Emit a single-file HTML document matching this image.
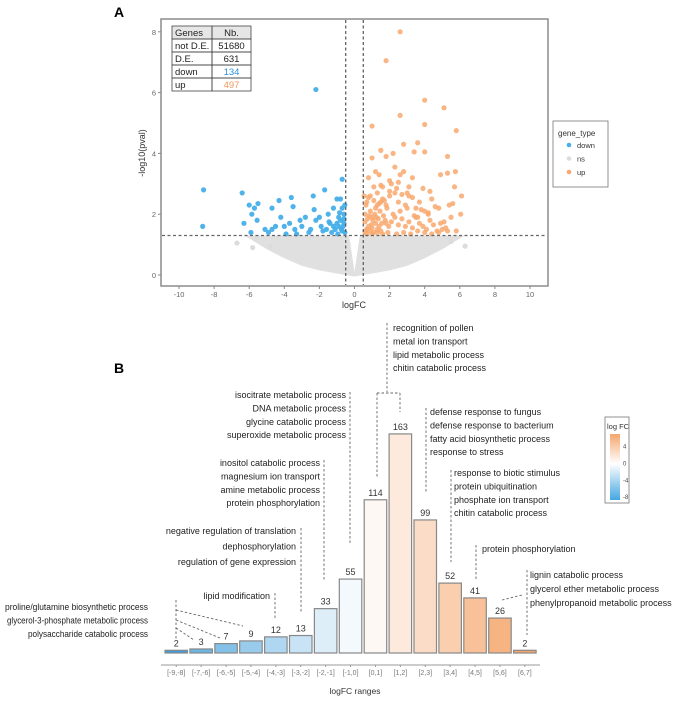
<!DOCTYPE html>
<html><head><meta charset="utf-8">
<style>
html,body{margin:0;padding:0;background:#fff;}
body{width:700px;height:698px;overflow:hidden;font-family:"Liberation Sans",Arial,sans-serif;}
svg text{font-family:"Liberation Sans",Arial,sans-serif;}
</style></head>
<body>
<svg id="chart" width="700" height="698" viewBox="0 0 700 698" xmlns="http://www.w3.org/2000/svg">
<defs>
<linearGradient id="cbar" x1="0" y1="0" x2="0" y2="1">
<stop offset="0" stop-color="#f5a66d"/><stop offset="0.45" stop-color="#ffffff"/><stop offset="1" stop-color="#45a6e2"/>
</linearGradient>
</defs>
<text x="114" y="17" font-size="14" font-weight="bold">A</text>
<text x="114" y="373" font-size="14" font-weight="bold">B</text>
<g id="volcano"></g>
<g id="bars"></g>
</svg>
<script>
// ---------- Panel A data ----------
const downX=[-8.6,-8.65,-6.4,-6.3,-6.0,-5.85,-5.7,-5.5,-5.55,-5.9,-5.1,-4.7,-4.7,-4.3,-4.2,-4.0,-3.6,-3.5,-3.7,-3.4,-3.1,-3.0,-2.8,-2.35,-2.2,-2.3,-2.2,-1.7,-1.9,-1.5,-1.4,-1.2,-1.1,-1.0,-0.9,-0.7,-0.8,-0.7,-0.6,-0.9,-0.7,-0.6,-1.3,-2.6,-3.9,-1.6,-0.8,-0.65,-1.0,-1.8,-2.0,-0.55,-0.55,-4.9,-4.5,-3.3,-2.5,-1.2,-0.95,-0.75,-0.6,-1.45,-0.85];
const downY=[2.8,1.6,2.7,1.7,2.3,2.0,2.2,2.35,1.8,1.4,1.5,2.2,1.5,2.45,1.9,1.6,2.55,2.25,1.7,1.5,1.8,1.6,1.9,2.6,6.1,2.15,1.8,2.8,1.6,2.0,1.7,2.2,1.5,2.5,1.9,3.15,2.5,2.2,1.7,1.6,1.45,2.0,1.4,1.4,1.35,1.5,1.8,1.6,1.7,1.45,1.9,2.3,1.4,1.4,1.6,1.35,1.5,1.6,1.35,1.5,1.85,1.75,2.05];
const upX=[2.6,1.8,4.0,5.1,2.6,1.0,4.0,5.8,2.8,3.6,3.4,4.0,1.5,1.8,2.2,1.0,5.3,0.8,1.2,1.4,2.3,2.6,2.8,3.3,4.9,5.3,5.75,1.1,1.6,2.1,2.4,3.1,3.9,4.3,5.7,6.1,6.05,5.8,5.0,4.8,4.4,4.0,3.7,3.3,2.9,2.5,2.0,1.6,1.3,0.9,0.7,0.6,0.6,0.7,0.8,0.9,1.0,1.1,1.2,1.3,1.4,1.5,0.6,0.75,0.85,0.95,1.05,1.15,1.25,1.35,1.45,1.55,1.65,1.75,1.85,1.95,2.1,2.3,2.5,2.7,2.9,3.1,3.3,3.5,3.7,3.9,4.1,4.3,4.5,4.7,4.9,5.2,5.5,0.65,0.9,1.2,1.5,1.8,2.2,2.6,3.0,3.4,3.8,4.2,4.6,5.1,5.6,0.7,1.0,1.3,1.6,1.9,2.4,2.8,3.2,3.6,4.0,4.4,4.8,5.3,0.55,0.8,1.1,1.4,1.7,2.0,2.3,2.7,3.1,3.5,1.5,2.0,2.5,3.0,3.6,4.2,5.4,0.7,1.0,1.3,1.8];
const upY=[8.0,7.05,5.75,5.5,5.25,4.9,4.95,4.75,4.3,4.35,4.05,4.05,4.1,3.9,4.0,3.85,3.9,3.2,3.4,3.3,3.55,3.3,3.4,3.2,3.3,3.35,3.4,2.9,2.9,3.0,2.85,2.9,2.85,2.75,2.9,2.6,2.0,1.45,1.5,2.2,2.5,2.1,2.4,2.55,2.3,2.4,2.6,2.5,2.7,2.6,2.4,2.0,1.4,1.5,1.6,1.45,1.55,1.4,1.7,1.5,1.6,1.45,1.75,1.85,1.95,1.65,1.8,2.0,1.9,1.85,2.1,1.7,1.95,1.8,2.2,1.6,1.75,1.9,1.65,1.85,1.6,1.75,1.55,1.9,1.7,1.6,1.5,1.8,1.65,1.45,1.7,1.55,1.9,2.3,2.1,2.2,2.4,2.3,2.0,2.1,2.2,1.95,2.15,2.05,2.25,1.75,2.35,1.35,1.35,1.4,1.35,1.4,1.35,1.4,1.35,1.45,1.4,1.35,1.4,1.45,2.6,2.55,2.45,2.35,2.45,2.75,2.7,2.65,2.6,2.2,2.95,3.1,3.05,2.7,1.9,2.0,2.3,1.5,1.9,2.3,1.7];
const nsX=[-6.7,-5.8,-5.6,-4.8,6.3,5.5];
const nsY=[1.05,0.9,1.2,0.95,0.95,1.1];
const cloudX=[-6.3,-0.3,0,0.3,6.3,6.0,5.0,4.0,3.0,2.0,1.0,0,-1.0,-2.0,-3.0,-4.0,-5.0,-6.0];
const cloudY=[1.3,1.3,0.1,1.3,1.3,1.2,0.85,0.55,0.3,0.15,0.05,-0.05,0.05,0.15,0.3,0.55,0.85,1.2];
const xTicksA=[-10,-8,-6,-4,-2,0,2,4,6,8,10];
const yTicksA=[0,2,4,6,8];
const fcCut=[-0.5,0.5];
const pCut=[1.3];
const tableRows=[["Genes","Nb."],["not D.E.","51680"],["D.E.","631"],["down","134"],["up","497"]];

// ---------- Panel B data ----------
const ranges=["[-9,-8]","[-7,-6]","[-6,-5]","[-5,-4]","[-4,-3]","[-3,-2]","[-2,-1]","[-1,0]","[0,1]","[1,2]","[2,3]","[3,4]","[4,5]","[5,6]","[6,7]"];
const counts=[2,3,7,9,12,13,33,55,114,163,99,52,41,26,2];
const midFC=[-8.5,-6.5,-5.5,-4.5,-3.5,-2.5,-1.5,-0.5,0.5,1.5,2.5,3.5,4.5,5.5,6.5];
const cbTicks=[4,0,-4,-8];

const NS="http://www.w3.org/2000/svg";
function mk(parent,tag,attrs,text){const e=document.createElementNS(NS,tag);for(const k in attrs)e.setAttribute(k,attrs[k]);if(text!==undefined)e.textContent=text;parent.appendChild(e);return e;}

// ---- Panel A ----
const A=document.getElementById('volcano');
const xA=v=>354.5+v*17.55;
const yA=v=>275-v*30.4;
const frame=mk(A,'rect',{x:161,y:19,width:387,height:267,fill:'#fff',stroke:'#8c8c8c','stroke-width':1.5});


let d='';
cloudX.forEach((v,i)=>{d+=(i?'L':'M')+xA(v).toFixed(1)+','+yA(cloudY[i]).toFixed(1);});
const cloud=mk(A,'path',{d:d+'Z',fill:'#e0e0e0'});


nsX.forEach((v,i)=>{const c=mk(A,'circle',{cx:xA(v),cy:yA(nsY[i]),r:2.6,fill:'#dcdcdc'});

});
downX.forEach((v,i)=>{const c=mk(A,'circle',{cx:xA(v),cy:yA(downY[i]),r:2.6,fill:'#46afe8','fill-opacity':0.95});

});
upX.forEach((v,i)=>{const c=mk(A,'circle',{cx:xA(v),cy:yA(upY[i]),r:2.6,fill:'#f8a96f','fill-opacity':0.85});

});
fcCut.forEach(v=>{const l=mk(A,'line',{x1:xA(v),x2:xA(v),y1:20,y2:285,stroke:'#555','stroke-width':1.2,'stroke-dasharray':'3,2.5'});

});
pCut.forEach(v=>{const l=mk(A,'line',{x1:162,x2:547,y1:yA(v),y2:yA(v),stroke:'#666','stroke-width':1.2,'stroke-dasharray':'3,2.5'});

});
xTicksA.forEach(v=>{mk(A,'line',{x1:xA(v),x2:xA(v),y1:286,y2:289,stroke:'#888'});
const t=mk(A,'text',{x:xA(v),y:297,'font-size':7.5,fill:'#666','text-anchor':'middle'},String(v));

});
yTicksA.forEach(v=>{mk(A,'line',{x1:158,x2:161,y1:yA(v),y2:yA(v),stroke:'#888'});
const t=mk(A,'text',{x:156,y:yA(v)+3,'font-size':7.5,fill:'#666','text-anchor':'end'},String(v));

});
const xt=mk(A,'text',{x:354,y:308,'font-size':9,fill:'#333','text-anchor':'middle'},'logFC');


const yt=mk(A,'text',{x:0,y:0,'font-size':9,fill:'#333','text-anchor':'middle',transform:'translate(145,153) rotate(-90)'},'-log10(pval)');


// table
const tb=mk(A,'g',{});


mk(tb,'rect',{x:172,y:26,width:79,height:13,fill:'#e6e6e6'});
tableRows.forEach((r,i)=>{const y=26+i*13;
mk(tb,'rect',{x:172,y:y,width:40,height:13,fill:'none',stroke:'#444','stroke-width':0.8});
mk(tb,'rect',{x:212,y:y,width:39,height:13,fill:'none',stroke:'#444','stroke-width':0.8});
mk(tb,'text',{x:175,y:y+10,'font-size':9.5,fill:'#222'},r[0]);
const col=i===3?'#2e90d8':(i===4?'#f29a5c':'#222');
mk(tb,'text',{x:231.5,y:y+10,'font-size':9.5,fill:col,'text-anchor':'middle'},r[1]);});
// legend
const lg=mk(A,'g',{});


mk(lg,'rect',{x:553,y:121,width:55,height:66,fill:'#fff',stroke:'#777','stroke-width':0.8});
mk(lg,'text',{x:558,y:136,'font-size':8,fill:'#333'},'gene_type');
[['down','#46afe8'],['ns','#dcdcdc'],['up','#f8a96f']].forEach((e,i)=>{
const g=mk(lg,'g',{});


mk(g,'circle',{cx:569,cy:145+i*13.5,r:2.3,fill:e[1]});
mk(g,'text',{x:577,y:148+i*13.5,'font-size':7.5,fill:'#333'},e[0]);});

// ---- Panel B ----
const B=document.getElementById('bars');
const xB=i=>165+i*24.9;
const bw=22.5;
const base=653;
const hB=v=>v*1.344;
function lerp(a,b,t){return Math.round(a+(b-a)*t);}
function fcColor(v){const w=[255,255,255];let c,t;
if(v<0){c=[63,159,220];t=Math.min(1,-v/8.5);}else{c=[245,166,109];t=Math.min(1,v/6.5);}
return 'rgb('+lerp(w[0],c[0],t)+','+lerp(w[1],c[1],t)+','+lerp(w[2],c[2],t)+')';}
counts.forEach((v,i)=>{
const r=mk(B,'rect',{x:xB(i),y:base-hB(v),width:bw,height:hB(v),fill:fcColor(midFC[i]),stroke:'#888','stroke-width':1.2});


const t=mk(B,'text',{x:xB(i)+bw/2,y:base-hB(v)-4,'font-size':9,fill:'#333','text-anchor':'middle'},String(v));


const tk=mk(B,'text',{x:xB(i)+bw/2,y:675,'font-size':7,fill:'#777','text-anchor':'middle'},ranges[i]);


mk(B,'line',{x1:xB(i)+bw/2,x2:xB(i)+bw/2,y1:665,y2:667,stroke:'#999'});
});
const ax=mk(B,'line',{x1:161,x2:540,y1:665,y2:665,stroke:'#999','stroke-width':1});


const bt=mk(B,'text',{x:355,y:694,'font-size':8.5,fill:'#333','text-anchor':'middle'},'logFC ranges');


// annotations
const ann=[
 {x:393,y:331,a:'start',lines:['recognition of pollen','metal ion transport','lipid metabolic process','chitin catabolic process']},
 {x:346,y:398,a:'end',lines:['isocitrate metabolic process','DNA metabolic process','glycine catabolic process','superoxide metabolic process']},
 {x:430,y:415,a:'start',lines:['defense response to fungus','defense response to bacterium','fatty acid biosynthetic process','response to stress']},
 {x:320,y:466,a:'end',lines:['inositol catabolic process','magnesium ion transport','amine metabolic process','protein phosphorylation']},
 {x:454,y:476,a:'start',lines:['response to biotic stimulus','protein ubiquitination','phosphate ion transport','chitin catabolic process']},
 {x:296,y:534,a:'end',lines:['negative regulation of translation','dephosphorylation','regulation of gene expression'],sp:15.5},
 {x:482,y:552,a:'start',lines:['protein phosphorylation']},
 {x:530,y:578,a:'start',lines:['lignin catabolic process','glycerol ether metabolic process','phenylpropanoid metabolic process'],sp:14},
 {x:270,y:599,a:'end',lines:['lipid modification']}
];
ann.forEach(b=>{const g=mk(B,'g',{});


b.lines.forEach((s,j)=>mk(g,'text',{x:b.x,y:b.y+j*(b.sp||13.4),'font-size':9,fill:'#222','text-anchor':b.a},s));});
// bottom-left block fitted to width
const pg=mk(B,'g',{});


[['proline/glutamine biosynthetic process',5,143],['glycerol-3-phosphate metabolic process',7,141],['polysaccharide catabolic process',28,120]].forEach((r,j)=>{
mk(pg,'text',{x:r[1],y:610+j*13.4,'font-size':9,fill:'#222',textLength:r[2],lengthAdjust:'spacingAndGlyphs'},r[0]);});
const leaders=[
 'M387,323 L387,392 M377,393 L400,393 M377,393 L377,477 M400,393 L400,412',
 'M350,392 L350,543',
 'M426,408 L426,493',
 'M324,460 L324,580',
 'M451,470 L451,562',
 'M301,528 L301,612',
 'M476,545 L476,580',
 'M527,570 L527,635 M502,600 L522,595',
 'M275,593 L275,620',
 'M176,600 L176,640 M176,610 L243,626 M176,620 L220,638 M176,628 L194,640'
];
leaders.forEach(p=>{const l=mk(B,'path',{d:p,fill:'none',stroke:'#666','stroke-width':0.9,'stroke-dasharray':'2.5,2'});

});
// colorbar legend
const cb=mk(B,'g',{});


mk(cb,'rect',{x:605,y:417,width:24,height:86,fill:'#fff',stroke:'#777','stroke-width':0.8});
mk(cb,'text',{x:607,y:429,'font-size':7.5,fill:'#333'},'log FC');
mk(cb,'rect',{x:610,y:434,width:10,height:66,fill:'url(#cbar)'});
const cbY=v=>463-v*4.2;
cbTicks.forEach(v=>{mk(cb,'text',{x:623,y:cbY(v)+2.5,'font-size':6,fill:'#444'},String(v));});
</script>
</body></html>
